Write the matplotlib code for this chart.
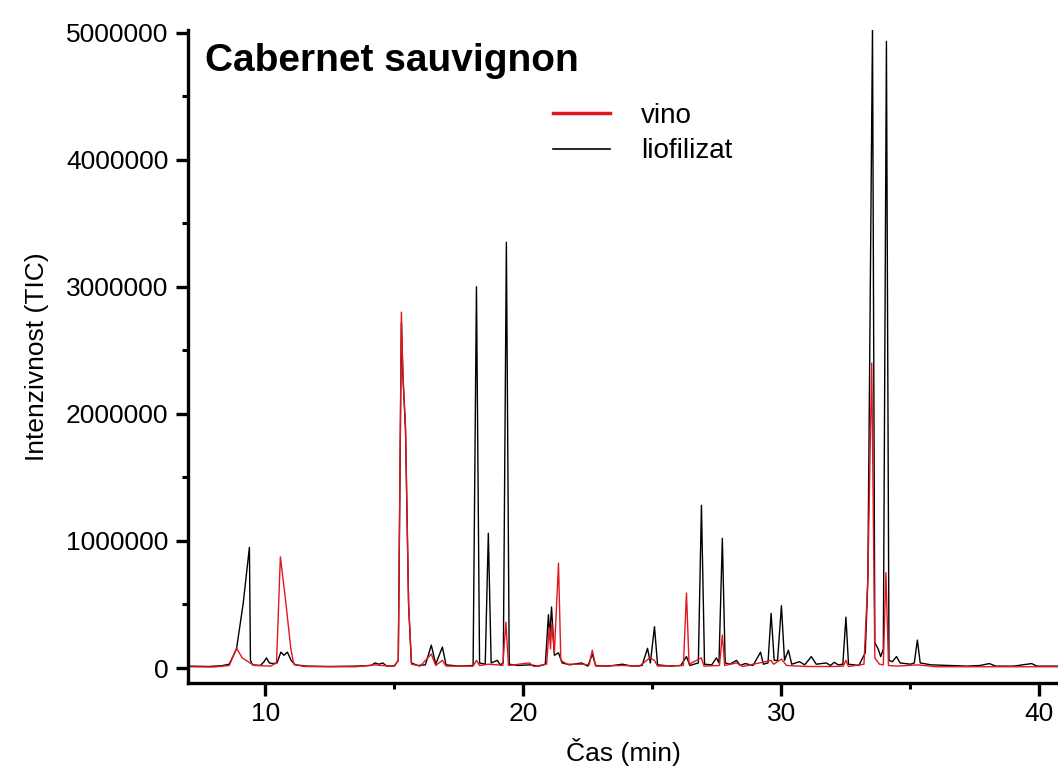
import matplotlib
matplotlib.use("Agg")
import matplotlib.pyplot as plt
from matplotlib.lines import Line2D
from matplotlib.ticker import MultipleLocator, FormatStrFormatter

plt.rcParams['font.family'] = ['Liberation Sans', 'DejaVu Sans']

# liofilizat (black trace), time in min / intensity TIC
lio_t = [7.0, 7.8, 8.3, 8.6, 8.88, 9.14, 9.38, 9.42, 9.5, 9.8, 9.95, 10.04, 10.15, 10.3,
         10.45, 10.6, 10.72, 10.85, 11.0, 11.15, 11.6, 12.5, 13.5, 14.1, 14.25, 14.4, 14.55,
         14.7, 15.0, 15.15, 15.27, 15.33, 15.43, 15.55, 15.66, 15.9, 16.2, 16.43, 16.6, 16.86,
         17.0, 17.5, 18.05, 18.18, 18.3, 18.52, 18.64, 18.75, 18.99, 19.1, 19.22, 19.34, 19.45,
         19.8, 20.23, 20.6, 20.85, 20.97, 21.02, 21.09, 21.2, 21.36, 21.5, 21.8, 22.25, 22.5,
         22.67, 22.8, 23.3, 23.84, 24.2, 24.6, 24.81, 24.92, 25.08, 25.2, 25.7, 26.1, 26.32,
         26.45, 26.78, 26.9, 27.02, 27.3, 27.48, 27.58, 27.71, 27.82, 28.0, 28.26, 28.4, 28.6,
         28.9, 29.19, 29.3, 29.48, 29.6, 29.72, 29.85, 30.0, 30.12, 30.27, 30.4, 30.7, 30.9,
         31.16, 31.35, 31.74, 31.9, 32.05, 32.2, 32.38, 32.5, 32.6, 33.0, 33.25, 33.35, 33.53,
         33.62, 33.75, 33.85, 33.95, 34.07, 34.17, 34.3, 34.46, 34.6, 35.0, 35.15, 35.27, 35.38,
         35.8, 36.5, 37.2, 37.7, 38.06, 38.3, 39.0, 39.7, 39.9, 40.7]
lio_i = [15000, 12000, 18000, 30000, 150000, 510000, 950000, 60000, 25000, 20000, 50000, 80000,
         40000, 35000, 40000, 125000, 100000, 125000, 60000, 25000, 15000, 12000, 15000, 20000,
         40000, 30000, 40000, 15000, 18000, 60000, 2720000, 2300000, 1870000, 500000, 40000,
         20000, 25000, 180000, 30000, 165000, 25000, 15000, 20000, 3000000, 40000, 30000,
         1060000, 40000, 60000, 25000, 40000, 3350000, 30000, 20000, 25000, 15000, 30000, 420000,
         250000, 480000, 100000, 120000, 40000, 25000, 40000, 15000, 110000, 20000, 15000, 30000,
         15000, 20000, 155000, 40000, 325000, 25000, 15000, 20000, 90000, 20000, 40000, 1280000,
         30000, 25000, 80000, 40000, 1020000, 40000, 30000, 60000, 20000, 35000, 20000, 125000,
         30000, 40000, 430000, 60000, 60000, 490000, 60000, 140000, 30000, 50000, 25000, 90000,
         30000, 40000, 20000, 45000, 25000, 30000, 400000, 30000, 20000, 120000, 700000, 5040000,
         200000, 150000, 90000, 150000, 4930000, 60000, 50000, 90000, 40000, 30000, 40000, 220000,
         40000, 25000, 20000, 15000, 20000, 35000, 15000, 15000, 35000, 15000, 15000]

# vino (red trace)
vino_t = [7.0, 8.0, 8.6, 8.88, 9.1, 9.4, 9.6, 10.2, 10.43, 10.58, 10.8, 10.98, 11.1, 11.5, 12.5,
          13.5, 14.25, 14.5, 15.0, 15.15, 15.27, 15.33, 15.43, 15.55, 15.66, 16.0, 16.43, 16.6,
          16.86, 17.0, 18.05, 18.18, 18.3, 18.64, 18.99, 19.2, 19.32, 19.42, 20.23, 20.4, 20.9,
          21.0, 21.05, 21.1, 21.2, 21.36, 21.45, 21.7, 22.25, 22.55, 22.67, 22.8, 23.84, 24.5,
          24.9, 25.08, 25.2, 26.2, 26.32, 26.42, 26.9, 27.0, 27.6, 27.71, 27.8, 28.26, 28.5,
          29.6, 29.7, 30.0, 30.2, 31.0, 32.0, 32.4, 32.5, 32.6, 33.2, 33.35, 33.5, 33.62, 33.8,
          33.95, 34.05, 34.15, 34.5, 35.27, 36.0, 40.7]
vino_i = [10000, 8000, 20000, 157000, 80000, 40000, 20000, 15000, 40000, 875000, 500000, 160000,
          30000, 12000, 10000, 10000, 25000, 20000, 15000, 60000, 2800000, 2300000, 1900000,
          500000, 30000, 15000, 110000, 20000, 60000, 15000, 15000, 60000, 20000, 30000, 25000,
          20000, 360000, 20000, 40000, 12000, 30000, 320000, 150000, 350000, 120000, 825000,
          60000, 30000, 30000, 25000, 140000, 15000, 20000, 15000, 80000, 60000, 15000, 20000,
          590000, 30000, 80000, 15000, 20000, 260000, 20000, 40000, 12000, 60000, 30000, 70000,
          20000, 12000, 12000, 15000, 60000, 12000, 30000, 700000, 2400000, 80000, 30000, 25000,
          750000, 20000, 15000, 25000, 10000, 10000]

red = '#e3161e'

fig = plt.figure(figsize=(10.58, 7.73), dpi=100)
ax = fig.add_axes([0.1777, 0.1164, 0.8223, 0.8448])

ax.plot(lio_t, lio_i, color='black', lw=1.0)
ax.plot(vino_t, vino_i, color=red, lw=1.0)

ax.set_xlim(7, 40.72)
ax.set_ylim(-118000, 5020000)

ax.spines['top'].set_visible(False)
ax.spines['right'].set_visible(False)
ax.spines['left'].set_linewidth(2.4)
ax.spines['bottom'].set_linewidth(2.4)

ax.xaxis.set_major_locator(MultipleLocator(10))
ax.xaxis.set_minor_locator(MultipleLocator(5))
ax.yaxis.set_major_locator(MultipleLocator(1000000))
ax.yaxis.set_minor_locator(MultipleLocator(500000))
ax.yaxis.set_major_formatter(FormatStrFormatter('%d'))
ax.tick_params(which='major', direction='out', length=9, width=2.4, labelsize=19, pad=5)
ax.tick_params(which='minor', direction='out', length=4, width=2.2)

ax.set_xlabel('Čas (min)', fontsize=19, labelpad=8)
ax.set_ylabel('Intenzivnost (TIC)', fontsize=19, labelpad=12)

ax.text(0.02, 0.952, 'Cabernet sauvignon', transform=ax.transAxes, fontsize=28,
        fontweight='bold', va='center', ha='left')

handles = [Line2D([], [], color=red, lw=2.5), Line2D([], [], color='black', lw=1.2)]
ax.legend(handles, ['vino', 'liofilizat'], loc='upper left', bbox_to_anchor=(0.404, 0.91),
          frameon=False, fontsize=20, handlelength=2.05, handletextpad=1.1, labelspacing=0.35,
          borderpad=0)

fig.savefig('out.png', dpi=100)
